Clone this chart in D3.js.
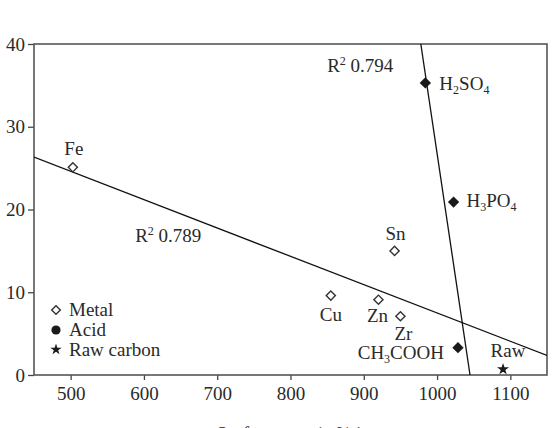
<!DOCTYPE html>
<html><head><meta charset="utf-8">
<script src="https://cdn.jsdelivr.net/npm/d3@7"></script>
<style>body{margin:0;background:#fff}svg{display:block}text{font-family:"Liberation Serif","Times New Roman",serif;fill:#2a2a2a}</style>
</head><body>
<svg id="c" width="555" height="428"></svg>
<script>
// Data
const metalNames = ["Fe","Cu","Zn","Zr","Sn"];
const metalX = [503, 855, 920, 950, 942];
const metalY = [25.1, 9.6, 9.1, 7.1, 15.0];
const acidNames = ["H2SO4","H3PO4","CH3COOH"];
const acidX = [984, 1022.5, 1028.5];
const acidY = [35.3, 20.9, 3.3];
const rawNames = ["Raw"];
const rawX = [1090];
const rawY = [0.7];
const xTicks = [500,600,700,800,900,1000,1100];
const yTicks = [0,10,20,30,40];
const r2Labels = ["0.789","0.794"];
const legendLabels = ["Metal","Acid","Raw carbon"];
const xTitle = "Surface area (m²/g)";

const svg = d3.select("#c");
const m = {l:34, t:44, r:8, b:53};
const W = 555 - m.l - m.r, H = 428 - m.t - m.b;
const x = d3.scaleLinear().domain([450,1150]).range([m.l, m.l+W]);
const y = d3.scaleLinear().domain([0,40]).range([m.t+H, m.t]);

svg.append("defs").append("clipPath").attr("id","clip")
  .append("rect").attr("x",m.l).attr("y",m.t).attr("width",W).attr("height",H);

function fit(xs, ys){
  const mx=d3.mean(xs), my=d3.mean(ys);
  let sxx=0,sxy=0;
  xs.forEach((v,i)=>{sxx+=(v-mx)**2; sxy+=(v-mx)*(ys[i]-my);});
  const b=sxy/sxx; return {b, a:my-b*mx};
}
const f1 = fit(metalX, metalY);
const f2 = fit(acidX, acidY);

const fs = 19;
// axes
const gx = svg.append("g").attr("transform",`translate(0,${m.t+H})`)
  .call(d3.axisBottom(x).tickValues(xTicks).tickFormat(d3.format("d")).tickSize(5).tickPadding(7).tickSizeOuter(0));
const gy = svg.append("g").attr("transform",`translate(${m.l},0)`)
  .call(d3.axisLeft(y).tickValues(yTicks).tickFormat(d3.format("d")).tickSize(6).tickPadding(3).tickSizeOuter(0));
[gx,gy].forEach(g=>{
  g.select(".domain").remove();
  g.selectAll(".tick line").attr("stroke","#444").attr("stroke-width",1.3);
  g.selectAll(".tick text").attr("font-size",fs).attr("font-family","Liberation Serif").attr("fill","#2a2a2a");
});
svg.append("rect").attr("x",m.l).attr("y",m.t).attr("width",W).attr("height",H)
  .attr("fill","none").attr("stroke","#555").attr("stroke-width",1.6);

// regression lines
const lines = svg.append("g").attr("clip-path","url(#clip)");
lines.append("line").attr("x1",x(450)).attr("y1",y(f1.a+f1.b*450))
  .attr("x2",x(1150)).attr("y2",y(f1.a+f1.b*1150)).attr("stroke","#111").attr("stroke-width",1.3);
const xa = v=>(v-f2.a)/f2.b;
lines.append("line").attr("x1",x(xa(40))).attr("y1",y(40))
  .attr("x2",x(xa(0))).attr("y2",y(0)).attr("stroke","#111").attr("stroke-width",1.3);

// markers (rotated squares = diamonds)
const sq = s=>d3.symbol().type(d3.symbolSquare).size(s)();
svg.selectAll(".met").data(metalX).enter().append("path")
  .attr("d",sq(42))
  .attr("transform",(d,i)=>`translate(${x(d)},${y(metalY[i])}) rotate(45)`)
  .attr("fill","#fff").attr("stroke","#333").attr("stroke-width",1.4);
svg.selectAll(".acd").data(acidX).enter().append("path")
  .attr("d",sq(64))
  .attr("transform",(d,i)=>`translate(${x(d)},${y(acidY[i])}) rotate(45)`)
  .attr("fill","#1a1a1a");
svg.selectAll(".raw").data(rawX).enter().append("path")
  .attr("d",d3.symbol().type(d3.symbolStar).size(45)())
  .attr("transform",(d,i)=>`translate(${x(d)},${y(rawY[i])})`)
  .attr("fill","#1a1a1a");

// point labels
function chem(sel, name){
  const parts = name.match(/[A-Za-z]+|\d+/g);
  let prevSub=false;
  parts.forEach(p=>{
    if(/^\d+$/.test(p)){ sel.append("tspan").attr("font-size",12).attr("dy",4).text(p); prevSub=true; }
    else { sel.append("tspan").attr("dy",prevSub?-4:0).text(p); prevSub=false; }
  });
}
const metalOff = {Fe:[1,-12,"middle"],Cu:[0,25,"middle"],Zn:[-1,22,"middle"],Zr:[3,24,"middle"],Sn:[1,-11,"middle"]};
metalNames.forEach((n,i)=>{
  const o=metalOff[n];
  svg.append("text").attr("x",x(metalX[i])+o[0]).attr("y",y(metalY[i])+o[1])
    .attr("text-anchor",o[2]).attr("font-size",fs).text(n);
});
const acidOff = {H2SO4:[14,7,"start"],H3PO4:[13,5,"start"],CH3COOH:[-14,11,"end"]};
acidNames.forEach((n,i)=>{
  const o=acidOff[n];
  const t=svg.append("text").attr("x",x(acidX[i])+o[0]).attr("y",y(acidY[i])+o[1])
    .attr("text-anchor",o[2]).attr("font-size",fs);
  chem(t,n);
});
rawNames.forEach((n,i)=>{
  svg.append("text").attr("x",x(rawX[i])+5).attr("y",y(rawY[i])-12)
    .attr("text-anchor","middle").attr("font-size",fs).text(n);
});

// R2 labels
const r2Pos = [[588,16.1],[850,36.65]];
r2Labels.forEach((v,i)=>{
  const t=svg.append("text").attr("x",x(r2Pos[i][0])).attr("y",y(r2Pos[i][1])).attr("font-size",fs);
  t.append("tspan").text("R");
  t.append("tspan").attr("font-size",12).attr("dy",-7).text("2");
  t.append("tspan").attr("dy",7).text(" "+v);
});

// legend
const lg = svg.append("g");
const lx=56, ly=[310,330,349.5];
lg.append("path").attr("d",sq(38)).attr("transform",`translate(${lx},${ly[0]}) rotate(45)`)
  .attr("fill","#fff").attr("stroke","#333").attr("stroke-width",1.4);
lg.append("circle").attr("cx",lx).attr("cy",ly[1]).attr("r",4.6).attr("fill","#1a1a1a");
lg.append("path").attr("d",d3.symbol().type(d3.symbolStar).size(40)()).attr("transform",`translate(${lx},${ly[2]})`)
  .attr("fill","#1a1a1a");
legendLabels.forEach((l,i)=>{
  lg.append("text").attr("x",69).attr("y",ly[i]+6).attr("font-size",fs).text(l);
});

// x title (cut off at bottom, as in the reference)
svg.append("text").attr("x",290).attr("y",440).attr("text-anchor","middle").attr("font-size",fs).text(xTitle);
</script>
</body></html>
